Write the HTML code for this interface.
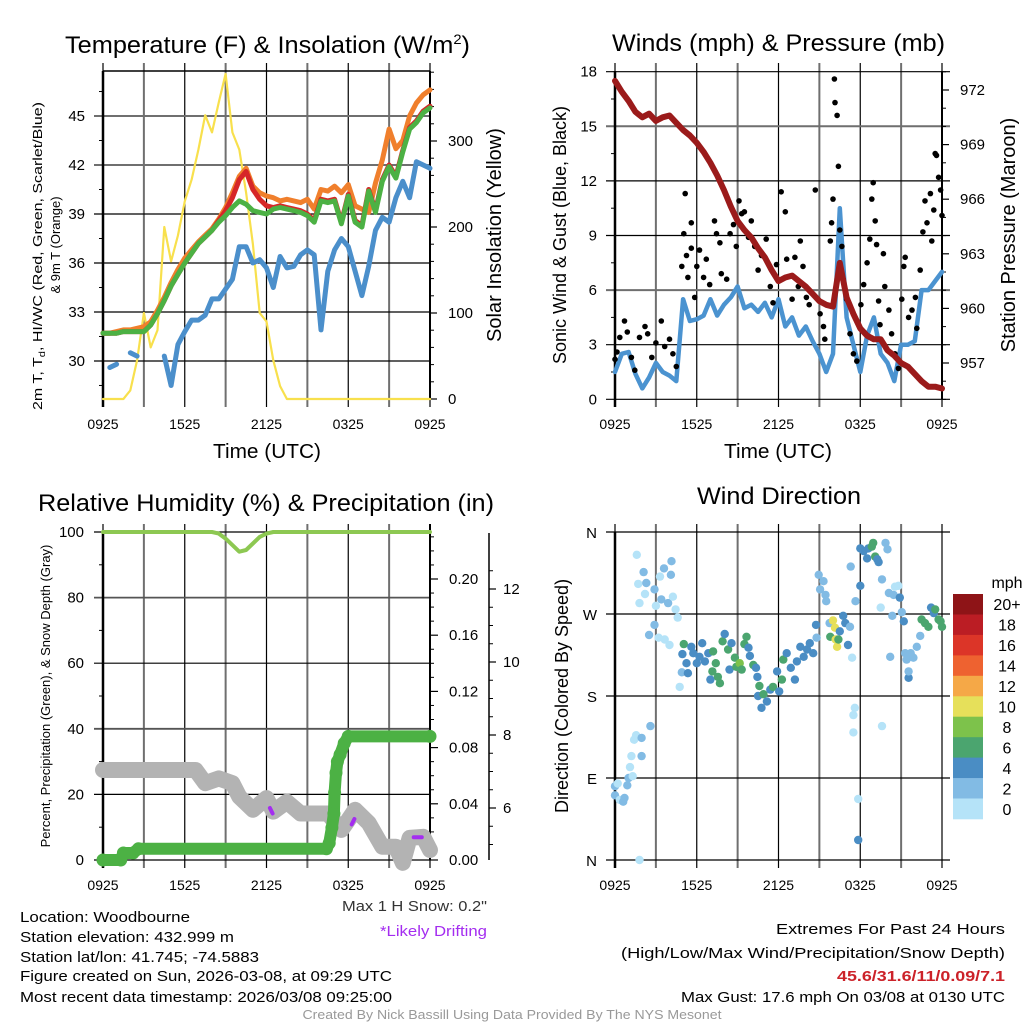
<!DOCTYPE html>
<html><head><meta charset="utf-8"><title>Mesonet Station Meteogram</title>
<style>
html,body{margin:0;padding:0;background:#fff;}
svg{display:block;font-family:"Liberation Sans",Arial,sans-serif;}
</style></head>
<body>
<svg id="fig" width="1024" height="1024" viewBox="0 0 1024 1024" xmlns="http://www.w3.org/2000/svg">
<rect x="0" y="0" width="1024" height="1024" fill="#fff"/>
<!-- titles -->
<text x="65" y="53" font-size="24" textLength="405" lengthAdjust="spacingAndGlyphs">Temperature (F) &amp; Insolation (W/m<tspan font-size="14" dy="-9">2</tspan><tspan dy="9">)</tspan></text>
<text x="612" y="51" font-size="24" textLength="333" lengthAdjust="spacingAndGlyphs">Winds (mph) &amp; Pressure (mb)</text>
<text x="38" y="511" font-size="24" textLength="456" lengthAdjust="spacingAndGlyphs">Relative Humidity (%) &amp; Precipitation (in)</text>
<text x="697" y="504" font-size="24" textLength="164" lengthAdjust="spacingAndGlyphs">Wind Direction</text>
<!-- axis titles -->
<text x="213" y="458" font-size="20" textLength="108" lengthAdjust="spacingAndGlyphs">Time (UTC)</text>
<text x="724" y="458" font-size="20" textLength="108" lengthAdjust="spacingAndGlyphs">Time (UTC)</text>
<text transform="translate(42,256) rotate(-90)" font-size="13" text-anchor="middle" textLength="308" lengthAdjust="spacingAndGlyphs">2m T, T<tspan font-size="9" dy="3">d</tspan><tspan dy="-3">, HI/WC (Red, Green, Scarlet/Blue)</tspan></text>
<text transform="translate(60,245) rotate(-90)" font-size="13" text-anchor="middle">&amp; 9m T (Orange)</text>
<text transform="translate(501,235) rotate(-90)" font-size="20" text-anchor="middle">Solar Insolation (Yellow)</text>
<text transform="translate(566,235) rotate(-90)" font-size="18" text-anchor="middle">Sonic Wind &amp; Gust (Blue, Black)</text>
<text transform="translate(1015,235) rotate(-90)" font-size="20" text-anchor="middle">Station Pressure (Maroon)</text>
<text transform="translate(50,696) rotate(-90)" font-size="13" text-anchor="middle">Percent, Precipitation (Green), &amp; Snow Depth (Gray)</text>
<text transform="translate(568,696) rotate(-90)" font-size="18" text-anchor="middle">Direction (Colored By Speed)</text>
<!-- info text -->
<g font-size="15">
<text x="20" y="922" textLength="170" lengthAdjust="spacingAndGlyphs">Location: Woodbourne</text>
<text x="20" y="942" textLength="214" lengthAdjust="spacingAndGlyphs">Station elevation: 432.999 m</text>
<text x="20" y="962" textLength="239" lengthAdjust="spacingAndGlyphs">Station lat/lon: 41.745; -74.5883</text>
<text x="20" y="981" textLength="372" lengthAdjust="spacingAndGlyphs">Figure created on Sun, 2026-03-08, at 09:29 UTC</text>
<text x="20" y="1002" textLength="372" lengthAdjust="spacingAndGlyphs">Most recent data timestamp: 2026/03/08 09:25:00</text>
<text x="487" y="911" text-anchor="end" fill="#333" textLength="145" lengthAdjust="spacingAndGlyphs">Max 1 H Snow: 0.2"</text>
<text x="487" y="936" text-anchor="end" fill="#a42df0" textLength="107" lengthAdjust="spacingAndGlyphs">*Likely Drifting</text>
<text x="1005" y="934" text-anchor="end" textLength="229" lengthAdjust="spacingAndGlyphs">Extremes For Past 24 Hours</text>
<text x="1005" y="958" text-anchor="end" textLength="384" lengthAdjust="spacingAndGlyphs">(High/Low/Max Wind/Precipitation/Snow Depth)</text>
<text x="1005" y="981" text-anchor="end" fill="#cc2229" font-weight="bold" textLength="168" lengthAdjust="spacingAndGlyphs">45.6/31.6/11/0.09/7.1</text>
<text x="1005" y="1002" text-anchor="end" textLength="324" lengthAdjust="spacingAndGlyphs">Max Gust: 17.6 mph On 03/08 at 0130 UTC</text>
<text x="512" y="1019" text-anchor="middle" fill="#999" font-size="12.5" textLength="419" lengthAdjust="spacingAndGlyphs">Created By Nick Bassill Using Data Provided By The NYS Mesonet</text>
</g>
<g id="plots"></g>
</svg>
<script>
// ---------------- data ----------------
const timeLabels = ["0925","1525","2125","0325","0925"];
const halfHours = 49; // samples every 0.5 h from 0 to 24
const temp9m = [31.7,31.7,31.8,31.9,31.9,32.0,32.1,32.4,33.1,33.9,34.8,35.6,36.3,36.8,37.3,37.7,38.1,38.7,39.4,40.3,41.3,41.8,40.7,40.3,40.1,40.0,39.8,39.9,39.8,39.7,39.9,39.3,40.5,40.4,40.7,40.3,40.8,39.5,39.3,39.1,40.9,42.3,44.2,43.0,43.5,45.0,45.8,46.3,46.6];
const temp2m = [31.7,31.7,31.7,31.8,31.8,31.8,31.8,32.2,32.9,33.7,34.6,35.3,36.0,36.6,37.2,37.6,38.0,38.6,39.2,40.0,41.1,41.6,40.5,39.9,39.5,39.4,39.5,39.4,39.3,39.2,39.0,38.6,39.9,39.8,39.9,38.5,40.2,38.6,38.3,40.5,39.2,41.1,42.0,41.3,42.9,44.3,44.7,45.3,45.6];
const windChill = [31.7,31.7,31.7,31.8,31.8,31.8,31.8,32.2,32.9,33.7,34.6,35.3,36.0,36.6,37.2,37.6,38.0,38.5,38.9,39.4,39.8,39.6,39.2,39.1,39.0,39.3,39.4,39.3,39.2,39.1,38.9,38.5,39.8,39.7,39.8,38.4,40.1,38.5,38.2,40.4,39.1,41.0,41.9,41.2,42.8,44.2,44.6,45.2,45.5];
const dewPoint = [null,29.6,29.8,null,30.5,30.3,null,null,null,30.3,28.5,31.0,31.8,32.5,32.5,32.8,33.8,33.8,34.4,35.0,37.0,37.0,36.0,36.2,35.7,34.5,36.4,35.7,35.8,36.5,36.8,36.5,31.9,35.5,36.8,37.5,37.0,35.5,34.0,35.8,38.0,38.8,38.5,40.0,41.0,40.0,42.2,42.0,41.8];
const insolation = [0,0,0,0,10,45,100,60,80,200,160,190,230,255,290,330,310,345,378,310,290,240,180,100,90,45,15,0,0,0,0,0,0,0,0,0,0,0,0,0,0,0,0,0,0,0,0,0,0];
const tempTicks = [30,33,36,39,42,45];
const insolTicks = [0,100,200,300];

const sonicWind = [1.5,2.5,2.6,1.4,0.6,1.2,2.0,1.5,1.3,1.0,5.5,4.3,4.4,4.6,5.5,4.6,5.2,5.6,6.2,5.0,5.2,4.8,5.3,4.5,5.5,4.0,4.5,3.5,4.0,3.2,2.5,1.5,2.5,10.5,4.5,3.0,1.5,3.5,4.5,2.5,2.0,1.0,3.0,3.0,3.2,6.0,6.0,6.5,7.0];
const pressure = [972.5,971.9,971.4,970.8,970.5,970.7,970.3,970.5,970.6,970.2,969.8,969.5,969.1,968.6,968.0,967.3,966.5,965.6,964.8,964.3,963.9,963.3,962.8,962.1,961.5,961.7,961.8,961.5,961.2,960.8,960.4,960.2,960.1,962.5,960.6,959.7,958.9,958.5,958.3,958.3,957.7,957.4,957.0,956.8,956.4,956.0,955.7,955.7,955.6];
const gustHours = [0.0,0.15,0.35,0.7,0.9,1.2,1.45,1.8,2.2,2.4,2.7,3.0,3.4,3.65,4.0,4.25,4.5,4.9,5.05,5.15,5.25,5.35,5.6,5.6,5.85,6.0,6.2,6.5,6.7,6.95,7.3,7.45,7.7,7.8,8.2,8.45,8.7,8.9,9.1,9.3,9.5,9.8,10.0,10.25,10.5,10.75,11.1,11.4,11.6,11.85,12.2,12.5,12.6,13.0,13.2,13.45,13.6,13.8,14.05,14.25,14.7,15.05,15.3,15.4,15.8,15.9,16.0,16.1,16.15,16.3,16.4,16.5,16.65,16.75,17.0,17.25,17.5,17.75,18.05,18.25,18.5,18.7,18.85,18.95,19.1,19.2,19.35,19.45,19.7,19.8,20.1,20.3,20.55,20.8,21.05,21.2,21.3,21.55,21.8,22.05,22.15,22.4,22.6,22.75,22.9,23.15,23.25,23.4,23.5,23.6,23.75,23.9,24.0];
const gustSpeeds = [2.2,2.6,3.4,4.3,3.7,2.3,1.6,3.4,4.0,3.6,2.3,3.1,4.3,2.9,3.3,2.5,1.8,7.3,9.1,11.3,7.9,6.7,9.7,8.3,5.6,7.3,8.2,6.7,7.7,6.3,9.8,9.1,8.6,6.9,6.6,9.1,9.6,8.4,10.9,10.2,10.3,8.9,9.8,8.4,7.1,7.9,8.8,6.2,5.3,7.4,11.4,10.3,7.7,5.5,7.8,6.2,8.7,7.3,5.6,5.2,11.5,4.7,4.0,3.3,8.7,9.7,11.0,17.6,16.3,15.6,12.8,9.3,8.4,6.6,5.5,3.6,2.5,2.1,5.2,6.3,7.5,8.8,11.0,11.9,9.8,8.5,5.4,4.1,8.0,6.2,4.9,3.6,2.5,1.7,5.5,7.3,7.8,4.5,4.9,5.6,3.9,7.1,9.2,10.9,9.7,11.3,8.7,10.4,13.5,13.4,12.2,11.5,10.1];
const windTicks = [0,3,6,9,12,15,18];
const pressTicks = [957,960,963,966,969,972];

const rhValues = [100,100,100,100,100,100,100,100,100,100,100,100,100,100,100,100,100,99.5,98,96,94,94.5,96.5,98.5,99.5,100,100,100,100,100,100,100,100,100,100,100,100,100,100,100,100,100,100,100,100,100,100,100,100];
const precipHours = [0,1.3,1.5,2.2,2.6,16.4,16.6,16.8,16.95,17.0,17.1,17.2,17.4,17.7,18.0,24];
const precipInches = [0,0,0.005,0.005,0.008,0.008,0.012,0.023,0.033,0.048,0.062,0.07,0.075,0.083,0.088,0.088];
const snowHours = [0,6.8,7.5,8.5,9.5,10,11,12,12.5,13.5,14.5,16.5,17.5,18,18.5,19.5,20.5,21.5,22,22.5,23.5,24];
const snowDepth = [7.04,7.04,6.68,6.81,6.68,6.31,5.95,6.27,5.9,6.17,5.85,5.85,5.4,5.67,5.95,5.59,4.94,4.94,4.5,5.18,5.21,4.85];
const driftHours = [[12.25,12.45],[18.25,18.45],[22.8,23.4]];
const driftDepth = [[6.0,5.85],[5.55,5.7],[5.2,5.2]];
const rhTicks = [0,20,40,60,80,100];
const precipTicks = ["0.00","0.04","0.08","0.12","0.16","0.20"];
const snowTicks = [6,8,10,12];

const dirHours = [0,0,0.2,0.35,0.6,0.7,0.9,1.0,1.3,1.1,1.2,1.4,1.55,1.95,1.95,2.6,1.6,1.7,1.8,2.1,2.2,2.3,2.5,2.9,3.0,2.9,3.2,3.3,3.4,3.6,3.65,3.9,4.1,4.15,4.0,4.25,4.45,4.6,4.75,4.9,4.95,5.05,5.25,5.35,5.6,5.75,6.0,6.2,6.4,6.6,6.85,7.0,7.2,7.15,7.4,7.55,7.7,7.9,8.05,8.3,8.4,8.55,8.8,8.9,9.15,9.3,9.5,9.65,9.8,9.9,10.15,10.35,10.45,10.5,10.6,10.75,10.9,11.15,11.4,11.6,11.9,12.05,12.25,12.35,12.6,12.9,13.2,13.35,13.6,13.85,14.1,14.3,14.55,14.75,14.8,14.95,15.05,15.3,15.45,15.5,15.75,15.8,16.0,16.15,16.2,16.3,16.4,16.5,16.75,16.9,17.1,17.25,17.3,17.4,17.5,17.6,17.5,17.65,17.85,17.85,18.0,18.0,18.25,18.5,18.6,18.85,18.95,19.1,19.25,19.35,19.5,19.6,19.6,19.85,20.0,20.1,20.2,20.35,20.45,20.55,20.8,20.9,21.05,21.2,21.3,21.4,21.55,21.55,21.7,21.9,22.15,22.4,22.5,22.75,23.0,23.2,23.4,23.5,23.75,24.0,23.9,1.8];
const dirDegrees = [71,81,84,66,64,68,82,90,92,102,114,132,137,134,114,147,335,303,282,316,292,304,247,297,279,258,244,311,286,320,242,282,313,328,236,289,275,266,190,206,226,237,216,205,234,227,216,223,238,218,227,198,229,207,216,201,194,240,248,231,209,238,222,212,216,209,237,245,233,224,214,211,201,180,191,167,182,174,187,190,207,185,198,220,227,211,198,218,234,223,231,238,227,258,244,313,297,306,291,284,260,245,263,255,242,234,242,251,268,260,236,256,322,222,159,167,140,284,67,22,301,342,339,331,342,344,348,333,330,327,277,147,308,348,341,293,223,268,291,300,301,288,272,262,227,220,200,207,227,222,234,246,264,260,256,277,271,275,264,256,262,0];
const dirSpeeds = [3,3,1,1,3,3,3,3,1,1,1,1,1,3,3,3,0,1,1,3,1,3,3,3,1,3,1,1,3,3,1,3,3,3,1,1,1,1,1,3,5,7,5,5,5,5,5,5,5,5,5,5,7,7,7,7,7,7,5,7,5,5,7,7,8,7,7,7,5,5,7,5,5,5,7,5,7,5,5,7,5,5,7,7,5,5,5,5,5,5,5,5,5,5,3,3,3,3,3,3,3,7,10,10,10,10,7,5,5,5,5,3,3,1,1,1,1,3,1,5,5,5,5,5,5,7,7,7,5,5,1,1,3,3,3,3,3,3,3,1,1,5,3,5,3,3,5,3,3,3,3,3,7,7,7,5,5,7,7,7,7,1];
const dirLabels = ["N","E","S","W","N"];
const speedBins = ["0","2","4","6","8","10","12","14","16","18","20+"];
const speedColors = ["#b5e3f8","#82bbe4","#4a8dc4","#4ba56f","#7dc24b","#e6e05a","#f5a847","#ee6230","#dc3528","#bb1d24","#8e1417"];

// ---------------- helpers ----------------
const NS = "http://www.w3.org/2000/svg";
const root = document.getElementById("plots");
function el(tag, attrs, parent) {
  const e = document.createElementNS(NS, tag);
  for (const k in attrs) e.setAttribute(k, attrs[k]);
  (parent || root).appendChild(e);
  return e;
}
function addLine(g, x1, y1, x2, y2, color, w, name) {
  const e = el("line", {x1:x1, y1:y1, x2:x2, y2:y2, stroke:color, "stroke-width":w}, g);
  
  
  return e;
}
function addText(g, x, y, str, anchor, size, name) {
  const e = el("text", {x:x, y:y, "text-anchor":anchor, "font-size":size}, g);
  e.textContent = str;
  
  
  return e;
}
function addPath(g, xs, ys, color, w, name) {
  let d = "", pen = false;
  for (let i = 0; i < xs.length; i++) {
    if (ys[i] === null || ys[i] === undefined) { pen = false; continue; }
    d += (pen ? "L" : "M") + xs[i].toFixed(1) + "," + ys[i].toFixed(1);
    pen = true;
  }
  const e = el("path", {d:d, fill:"none", stroke:color, "stroke-width":w, "stroke-linejoin":"round", "stroke-linecap":"round"}, g);
  
  
  return e;
}
function addDot(g, x, y, r, color, name) {
  const e = el("circle", {cx:x.toFixed(1), cy:y.toFixed(1), r:r, fill:color}, g);
  
  
  return e;
}
function halfHourArr() { const a = []; for (let i = 0; i < halfHours; i++) a.push(i * 0.5); return a; }
const HH = halfHourArr();

function timeGrid(g, P) {
  for (let k = 0; k <= 8; k++) {
    const x = P.xs(k * 3);
    const dark = (k % 2 === 1);
    addLine(g, x, P.y0 - 8, x, P.y1 + 8, dark ? "#6f6f6f" : "#000", dark ? 2 : 1.2, "vertical-grid-line");
  }
  for (let k = 0; k < timeLabels.length; k++) {
    addText(g, P.xs(k * 6), P.y1 + 30, timeLabels[k], "middle", 14, "x-tick-label");
  }
}

// ---------------- panel 1: temperature ----------------
(function () {
  const g = el("g", {});
  
  
  const P = {x0:103, x1:430, y0:71, y1:399};
  P.xs = t => P.x0 + t * (P.x1 - P.x0) / 24;
  const yT = v => 214 - (v - 39) * 16.33;
  const yI = v => 399 - v * 0.86;
  timeGrid(g, P);
  addLine(g, P.x0, P.y0, P.x1, P.y0, "#000", 1.5, "plot-top-border");
  tempTicks.forEach((v, i) => {
    addLine(g, P.x0 - 9, yT(v), P.x1, yT(v), i >= 4 ? "#6f6f6f" : "#000", i >= 4 ? 2 : 1.2, "horizontal-grid-line");
    addText(g, 85, yT(v) + 5, String(v), "end", 15, "temperature-tick-label");
  });
  for (let v = 28.5; v <= 47.5; v += 3) addLine(g, P.x0 - 4, yT(v), P.x0, yT(v), "#000", 1, "temperature-minor-tick");
  insolTicks.forEach(v => {
    addLine(g, P.x1, yI(v), P.x1 + 7, yI(v), "#000", 1.2, "insolation-tick");
    addText(g, 448, yI(v) + 5, String(v), "start", 15, "insolation-tick-label");
  });
  for (let v = 20; v <= 380; v += 20) if (v % 100) addLine(g, P.x1, yI(v), P.x1 + 4, yI(v), "#000", 1, "insolation-minor-tick");
  addLine(g, P.x0, P.y0, P.x0, P.y1 + 8, "#000", 2.5, "temperature-y-axis");
  addLine(g, P.x1, P.y0, P.x1, P.y1, "#000", 2, "insolation-y-axis");
  const X = HH.map(P.xs);
  addPath(g, X, insolation.map(yI), "#f8e04d", 2.2, "insolation-line");
  addPath(g, X, temp9m.map(yT), "#f07f2c", 5, "temp-9m-line");
  addPath(g, X, temp2m.map(yT), "#d62728", 5, "temp-2m-line");
  addPath(g, X, windChill.map(yT), "#4cb144", 5, "wind-chill-line");
  addPath(g, X, dewPoint.map(v => v === null ? null : yT(v)), "#4b8fcb", 5, "dew-point-line");
})();

// ---------------- panel 2: winds ----------------
(function () {
  const g = el("g", {});
  
  
  const P = {x0:615, x1:942, y0:71, y1:399};
  P.xs = t => P.x0 + t * (P.x1 - P.x0) / 24;
  const yW = v => 399.3 - v * 18.2;
  const yP = v => 90 + (972 - v) * 18.2;
  timeGrid(g, P);
  windTicks.forEach((v, i) => {
    addLine(g, P.x0 - 9, yW(v), P.x1 + 8, yW(v), (i === 2 || i === 5) ? "#6f6f6f" : "#000", (i === 2 || i === 5) ? 2 : 1.2, "horizontal-grid-line");
    addText(g, 597, yW(v) + 5, String(v), "end", 15, "wind-tick-label");
  });
  for (let v = 1.5; v <= 18; v += 3) addLine(g, P.x0 - 4, yW(v), P.x0, yW(v), "#000", 1, "wind-minor-tick");
  pressTicks.forEach(v => {
    addLine(g, P.x1, yP(v), P.x1 + 7, yP(v), "#000", 1.2, "pressure-tick");
    addText(g, 960, yP(v) + 5, String(v), "start", 15, "pressure-tick-label");
  });
  for (let v = 955; v <= 973; v++) if ((v - 957) % 3) addLine(g, P.x1, yP(v), P.x1 + 4, yP(v), "#000", 1, "pressure-minor-tick");
  addLine(g, P.x0, P.y0, P.x0, P.y1 + 8, "#000", 2.5, "wind-y-axis");
  addLine(g, P.x1, P.y0, P.x1, P.y1, "#000", 2, "pressure-y-axis");
  const X = HH.map(P.xs);
  addPath(g, X, sonicWind.map(yW), "#4b93d0", 4.5, "sonic-wind-line");
  for (let i = 0; i < gustHours.length; i++) addDot(g, P.xs(gustHours[i]), yW(gustSpeeds[i]), 2.8, "#000", "gust-point");
  addPath(g, X, pressure.map(yP), "#9b1b1b", 6, "pressure-line");
})();

// ---------------- panel 3: humidity ----------------
(function () {
  const g = el("g", {});
  
  
  const P = {x0:103, x1:430, y0:532, y1:860};
  P.xs = t => P.x0 + t * (P.x1 - P.x0) / 24;
  const yR = v => 860 - v * 3.28;
  const yPr = v => 860 - v * 1405;
  const yS = v => 735 + (8 - v) * 36.5;
  timeGrid(g, P);
  rhTicks.forEach((v, i) => {
    addLine(g, P.x0 - 9, yR(v), P.x1, yR(v), (i === 2 || i === 4) ? "#555" : "#000", (i === 2 || i === 4) ? 1.8 : 1.2, "horizontal-grid-line");
    addText(g, 84, yR(v) + 5, String(v), "end", 15, "humidity-tick-label");
  });
  for (let v = 10; v < 100; v += 20) addLine(g, P.x0 - 4, yR(v), P.x0, yR(v), "#000", 1, "humidity-minor-tick");
  precipTicks.forEach(s => {
    const v = parseFloat(s);
    addLine(g, P.x1, yPr(v), P.x1 + 8, yPr(v), "#000", 1.2, "precip-tick");
    addText(g, 449, yPr(v) + 5, s, "start", 15, "precip-tick-label");
  });
  for (let v = 0.01; v < 0.235; v += 0.01) if (Math.round(v * 100) % 4) addLine(g, P.x1, yPr(v), P.x1 + 4, yPr(v), "#000", 1, "precip-minor-tick");
  addLine(g, 489, 533, 489, 860, "#000", 1.5, "snow-depth-axis");
  snowTicks.forEach(v => {
    addLine(g, 489, yS(v), 496, yS(v), "#000", 1.2, "snow-tick");
    addText(g, 503, yS(v) + 5, String(v), "start", 15, "snow-tick-label");
  });
  for (let v = 5; v <= 12.9; v += 0.5) if (v % 2) addLine(g, 489, yS(v), 493, yS(v), "#000", 1, "snow-minor-tick");
  addLine(g, P.x0, P.y0, P.x0, P.y1 + 8, "#000", 2.5, "humidity-y-axis");
  addLine(g, P.x1, P.y0 - 8, P.x1, P.y1, "#000", 2, "precip-y-axis");
  addPath(g, snowHours.map(P.xs), snowDepth.map(yS), "#b3b3b3", 16, "snow-depth-line");
  for (let k = 0; k < driftHours.length; k++) addPath(g, driftHours[k].map(P.xs), driftDepth[k].map(yS), "#a42df0", 4, "drifting-segment");
  addPath(g, HH.map(P.xs), rhValues.map(yR), "#8dc852", 4, "relative-humidity-line");
  addPath(g, precipHours.map(P.xs), precipInches.map(yPr), "#4cb144", 12, "precipitation-line");
  for (let i = 0; i < precipHours.length; i++) addDot(g, P.xs(precipHours[i]), yPr(precipInches[i]), 6.5, "#4cb144", "precipitation-point");
})();

// ---------------- panel 4: wind direction ----------------
(function () {
  const g = el("g", {});
  
  
  const P = {x0:615, x1:942, y0:532, y1:860};
  P.xs = t => P.x0 + t * (P.x1 - P.x0) / 24;
  const yD = v => 860 - v * 328 / 360;
  timeGrid(g, P);
  dirLabels.forEach((s, i) => {
    const y = yD(i * 90);
    addLine(g, P.x0 - 9, y, P.x1 + 8, y, "#000", 1.2, "horizontal-grid-line");
    addText(g, 597, y + 6, s, "end", 15, "direction-tick-label");
  });
  addLine(g, P.x0, P.y0, P.x0, P.y1 + 8, "#000", 2.5, "direction-y-axis");
  for (let i = 0; i < dirHours.length; i++) {
    const bin = Math.min(10, Math.floor(dirSpeeds[i] / 2));
    addDot(g, P.xs(dirHours[i]), yD(dirDegrees[i]), 4.2, speedColors[bin], "wind-direction-point");
  }
  const cb = el("g", {}, g);
  
  
  const bh = 225 / speedBins.length;
  for (let i = 0; i < speedBins.length; i++) {
    const k = speedBins.length - 1 - i;
    const r = el("rect", {x:953, y:(594 + i * bh).toFixed(1), width:30, height:(bh + 0.3).toFixed(1), fill:speedColors[k]}, cb);
    
    
    addText(cb, 1007, 594 + i * bh + bh / 2 + 6, speedBins[k], "middle", 16, "colorbar-label");
  }
  addText(cb, 1007, 588, "mph", "middle", 16, "colorbar-title");
})();
</script>
</body></html>
